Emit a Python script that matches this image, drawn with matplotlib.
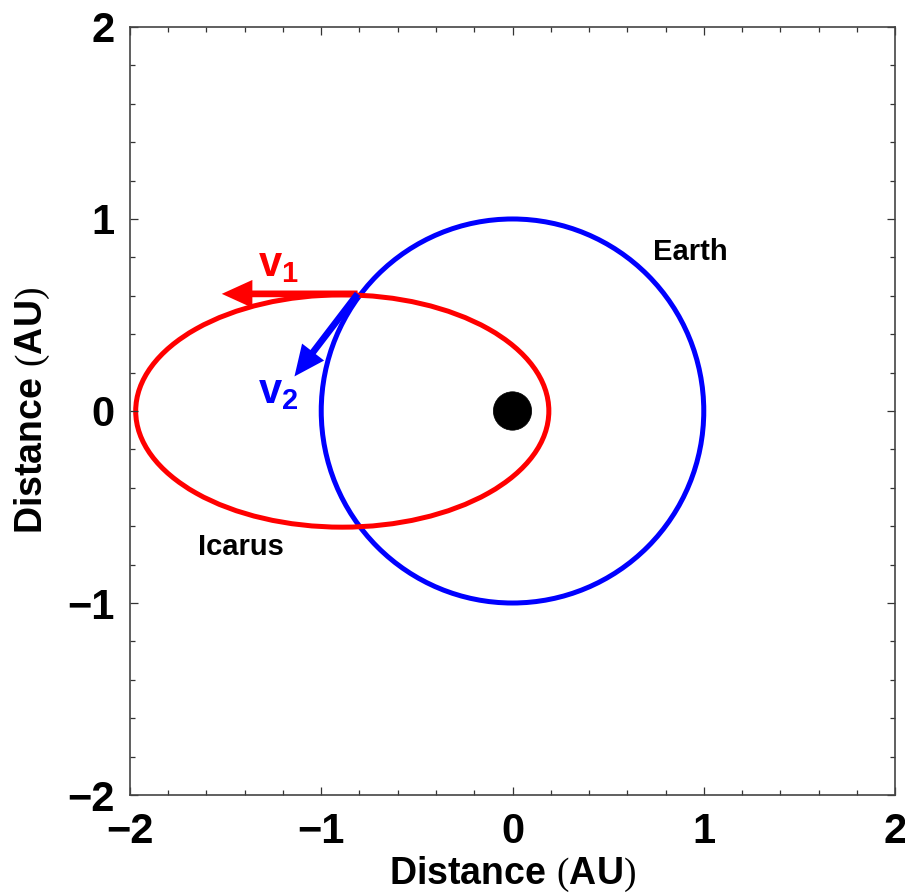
import matplotlib
matplotlib.use("Agg")
import matplotlib.pyplot as plt
from matplotlib.patches import Ellipse, Circle
from matplotlib.ticker import MultipleLocator

plt.rcParams['font.family'] = ['Liberation Sans', 'DejaVu Sans']
plt.rcParams['mathtext.fontset'] = 'custom'
plt.rcParams['mathtext.bf'] = 'Liberation Sans:bold'
plt.rcParams['mathtext.rm'] = 'Liberation Serif'
plt.rcParams['mathtext.it'] = 'Liberation Sans:bold'

# data (AU)
earth_center = (0.0, 0.0)
earth_radius = 1.0
icarus_center = (-0.89, 0.0)
icarus_width = 2.16
icarus_height = 1.21
sun_center = (0.0, 0.0)
sun_radius = 0.1
v1_start = (-0.81, 0.61)
v1_end = (-1.52, 0.61)
v2_start = (-0.81, 0.61)
v2_end = (-1.14, 0.18)
labels = {"Earth": (0.93, 0.83), "Icarus": (-1.42, -0.71)}
ticks = [-2, -1, 0, 1, 2]

fig = plt.figure(figsize=(9.05, 8.96), dpi=100)
ax = fig.add_axes([0.1436, 0.1127, 0.8454, 0.8572])

ax.add_patch(Circle(earth_center, earth_radius, fill=False, ec='#0000ff', lw=3.6))
ax.add_patch(Ellipse(icarus_center, icarus_width, icarus_height, fill=False, ec='#ff0000', lw=3.6))
ax.add_patch(Circle(sun_center, sun_radius, fc='black', ec='black', lw=0.5))

for (s, e, c) in [(v1_start, v1_end, '#ff0000'), (v2_start, v2_end, '#0000ff')]:
    ax.arrow(s[0], s[1], e[0] - s[0], e[1] - s[1], width=0.035, head_width=0.145,
             head_length=0.16, length_includes_head=True, fc=c, ec=c, lw=0, zorder=3)

ax.text(-1.33, 0.76, r'$\mathbf{v_1}$', color='#ff0000', fontsize=30, ha='left', va='center')
ax.text(-1.33, 0.10, r'$\mathbf{v_2}$', color='#0000ff', fontsize=30, ha='left', va='center')
for name, (x, y) in labels.items():
    ax.text(x, y, name, fontsize=21, fontweight='bold', ha='center', va='center')

ax.set_xlim(-2, 2)
ax.set_ylim(-2, 2)
ax.set_xticks(ticks)
ax.set_yticks(ticks)
ax.xaxis.set_minor_locator(MultipleLocator(0.2))
ax.yaxis.set_minor_locator(MultipleLocator(0.2))
ax.tick_params(which='both', direction='in', top=True, right=True, width=0.9, color='#333333')
ax.tick_params(which='major', length=6, labelsize=30, pad=12)
ax.tick_params(which='minor', length=3.5)
ax.tick_params(axis='y', which='major', pad=11)
for lab in ax.get_xticklabels() + ax.get_yticklabels():
    lab.set_fontweight('bold')
for s in ax.spines.values():
    s.set_linewidth(1.2)
    s.set_color('#444444')

ax.set_xlabel(r'$\mathbf{Distance}\ (\mathbf{AU})$', fontsize=27)
ax.set_ylabel(r'$\mathbf{Distance}\ (\mathbf{AU})$', fontsize=27)
ax.xaxis.set_label_coords(0.5, -0.078)
ax.yaxis.set_label_coords(-0.102, 0.5)

fig.savefig('out.png', dpi=100)
